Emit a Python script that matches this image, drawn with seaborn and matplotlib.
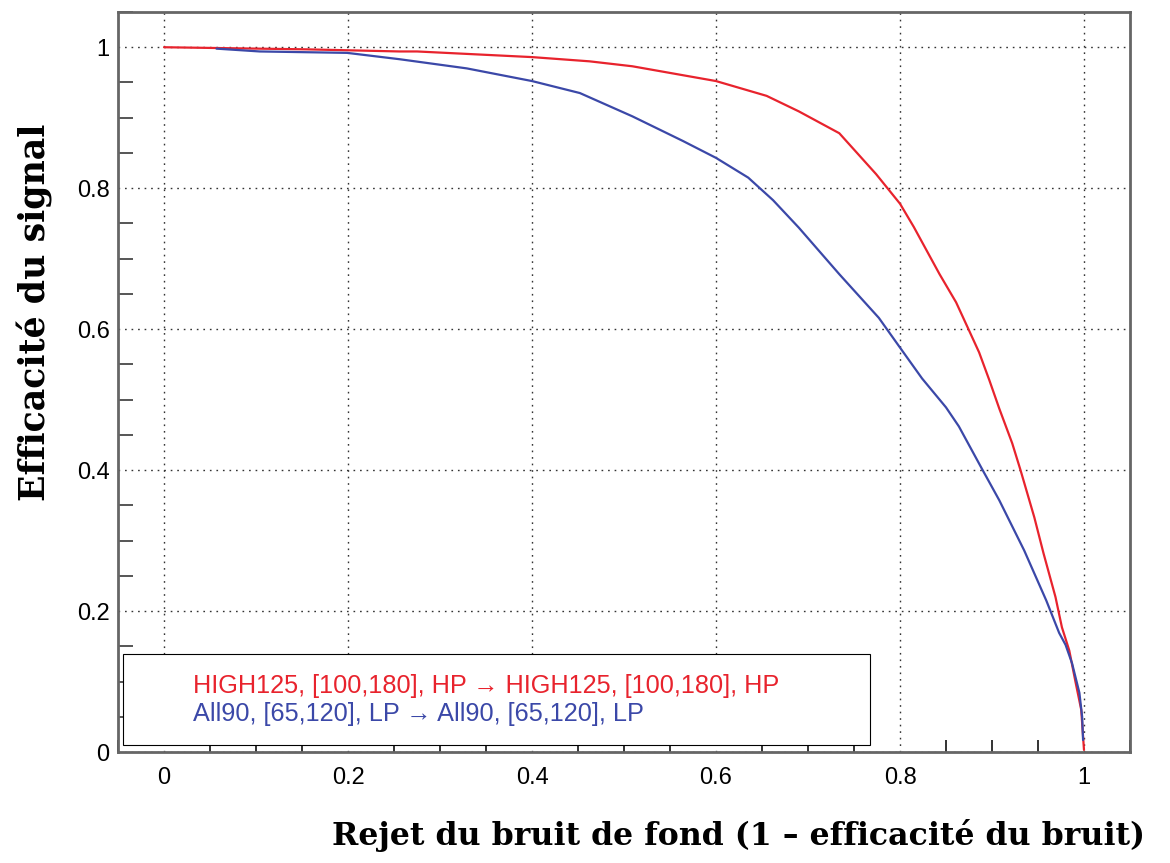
import pandas as pd
import matplotlib
matplotlib.use("Agg")
import matplotlib.pyplot as plt
from matplotlib.lines import Line2D
from matplotlib.ticker import MultipleLocator
import seaborn as sns

# DATA
red_x = [0.0, 0.155, 0.256, 0.275, 0.40, 0.4625, 0.509, 0.60, 0.655, 0.69, 0.734,
         0.774, 0.80, 0.815, 0.843, 0.861, 0.873, 0.886, 0.897, 0.908, 0.922,
         0.931, 0.946, 0.956, 0.969, 0.976, 0.984, 0.991, 0.997, 1.0]
red_y = [1.0, 0.997, 0.994, 0.994, 0.986, 0.980, 0.973, 0.952, 0.931, 0.909, 0.878,
         0.820, 0.778, 0.745, 0.678, 0.638, 0.604, 0.567, 0.528, 0.487, 0.438,
         0.400, 0.333, 0.282, 0.220, 0.177, 0.144, 0.098, 0.060, 0.003]

blue_x = [0.057, 0.104, 0.199, 0.256, 0.329, 0.40, 0.452, 0.509, 0.564, 0.60, 0.635,
          0.662, 0.69, 0.734, 0.777, 0.801, 0.824, 0.85, 0.864, 0.889, 0.908, 0.935,
          0.959, 0.973, 0.98, 0.987, 0.995, 0.998, 0.999]
blue_y = [0.998, 0.994, 0.992, 0.983, 0.970, 0.952, 0.935, 0.902, 0.867, 0.843, 0.815,
          0.783, 0.744, 0.678, 0.616, 0.572, 0.530, 0.489, 0.462, 0.402, 0.357, 0.286,
          0.215, 0.169, 0.152, 0.126, 0.084, 0.050, 0.017]

labels = ["HIGH125, [100,180], HP \u2192 HIGH125, [100,180], HP",
          "All90, [65,120], LP \u2192 All90, [65,120], LP"]
colors = ["#e8232d", "#3b48a8"]

XLABEL = "Rejet du bruit de fond (1 \u2013 efficacit\u00e9 du bruit)"
YLABEL = "Efficacit\u00e9 du signal"


def main():
    sns.set_style("white")
    plt.rcParams['font.family'] = ['Liberation Sans', 'DejaVu Sans']

    fig = plt.figure(figsize=(11.7, 8.63), dpi=100)
    ax = fig.add_axes([0.1009, 0.1286, 0.8649, 0.8575])

    df_red = pd.DataFrame({"x": red_x, "y": red_y})
    df_blue = pd.DataFrame({"x": blue_x, "y": blue_y})
    sns.lineplot(data=df_red, x="x", y="y", color=colors[0], lw=1.6,
                 estimator=None, sort=False, ax=ax)
    sns.lineplot(data=df_blue, x="x", y="y", color=colors[1], lw=1.6,
                 estimator=None, sort=False, ax=ax)

    ax.set_xlim(-0.05, 1.05)
    ax.set_ylim(0, 1.05)
    ax.xaxis.set_minor_locator(MultipleLocator(0.05))
    ax.yaxis.set_minor_locator(MultipleLocator(0.05))
    ax.set_xticks([0, 0.2, 0.4, 0.6, 0.8, 1.0])
    ax.set_xticklabels(["0", "0.2", "0.4", "0.6", "0.8", "1"])
    ax.set_yticks([0, 0.2, 0.4, 0.6, 0.8, 1.0])
    ax.set_yticklabels(["0", "0.2", "0.4", "0.6", "0.8", "1"])

    ax.tick_params(axis="y", which="major", direction="in", length=21, width=1.4,
                   color="#555555", labelsize=17, pad=6, labelcolor="black")
    ax.tick_params(axis="y", which="minor", direction="in", length=11, width=1.4,
                   color="#555555", left=True)
    ax.tick_params(axis="x", which="major", direction="in", length=16, width=1.4,
                   color="#333333", labelsize=17, pad=11, labelcolor="black")
    ax.tick_params(axis="x", which="minor", direction="in", length=9, width=1.4,
                   color="#333333", bottom=True)

    ax.grid(True, which="major", color="#333333", linestyle=(0, (1.2, 3.5)), lw=1.0)
    for sp in ax.spines.values():
        sp.set_color("#666666")
        sp.set_linewidth(2)
    ax.set_xlabel("")
    ax.set_ylabel("")

    handles = [Line2D([], [], lw=0) for _ in labels]
    leg = ax.legend(handles, labels, loc="lower left",
                    bbox_to_anchor=(0.005, 0.009, 0.738, 0.12), mode="expand",
                    borderaxespad=0, fontsize=18.2, labelcolor=colors,
                    frameon=True, fancybox=False, edgecolor="black", framealpha=1,
                    borderpad=0.78, labelspacing=0.15, handlelength=1.5,
                    handletextpad=0.5)
    leg.get_frame().set_linewidth(0.8)

    fig.text(0.979, 0.021, XLABEL, ha="right", va="baseline", fontsize=22.8,
             fontweight="bold", family=["DejaVu Serif"], color="black")
    fig.text(0.030, 0.857, YLABEL, ha="center", va="top", rotation=90, fontsize=25,
             fontweight="bold", family=["DejaVu Serif"], color="black")

    fig.savefig("out.png", dpi=100)


if __name__ == "__main__":
    main()
